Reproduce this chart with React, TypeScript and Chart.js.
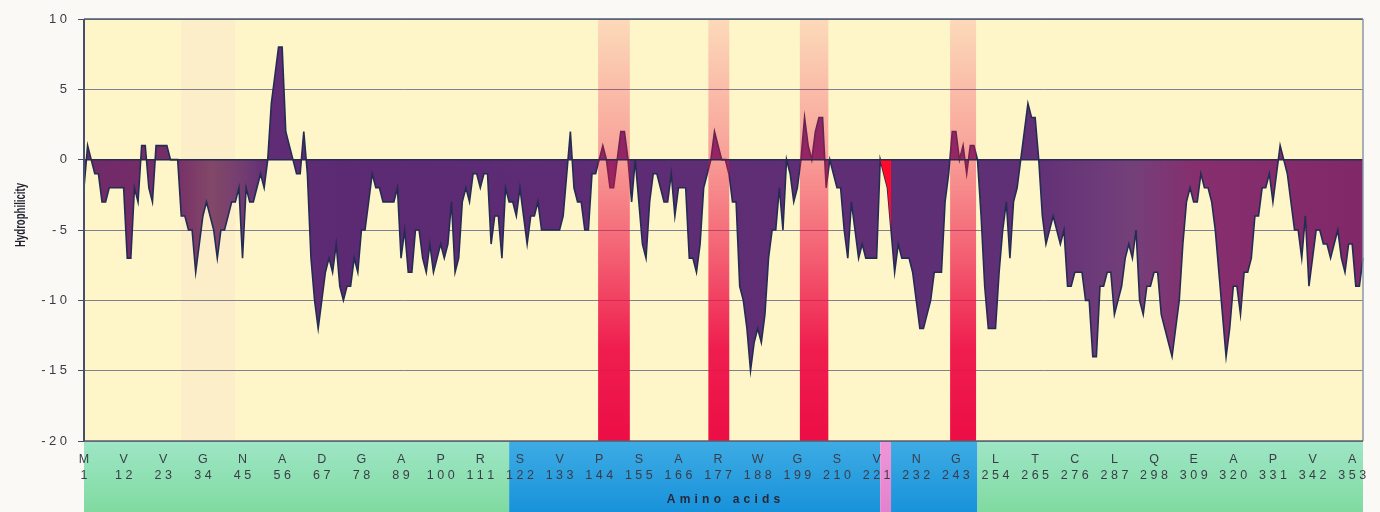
import React, { useEffect, useRef } from 'react';
import { Chart, registerables } from 'chart.js';

Chart.register(...registerables);

// Hydrophilicity value per residue (1..356)
const hydrophilicity: number[] = [
  -2, 1, 0, -1, -1, -3, -3, -2, -2, -2,
  -2, -2, -7, -7, -2, -3, 1, 1, -2, -3,
  1, 1, 1, 1, 0, 0, 0, -4, -4, -5,
  -5, -8, -6, -4, -3, -4, -5, -7, -5, -5,
  -4, -3, -3, -2, -7, -2, -3, -3, -2, -1,
  -2, 0, 4, 6, 8, 8, 2, 1, 0, -1,
  -1, 2, -1, -7, -10, -12, -10, -8, -7, -8,
  -6, -9, -10, -9, -9, -7, -8, -5, -5, -3,
  -1, -2, -2, -3, -3, -3, -3, -2, -7, -5,
  -8, -8, -5, -5, -7, -8, -6, -8, -7, -6,
  -7, -6, -3, -8, -7, -3, -2, -3, -1, -1,
  -2, -1, -1, -6, -4, -4, -7, -2, -3, -3,
  -4, -2, -4, -6, -4, -4, -3, -5, -5, -5,
  -5, -5, -5, -4, -1, 2, -2, -3, -3, -5,
  -5, -1, -1, 0, 1, 0, -2, -2, 0, 2,
  2, 0, -3, 0, -3, -6, -7, -3, -1, -1,
  -2, -3, -3, -1, -4, -2, -2, -2, -7, -7,
  -8, -6, -2, -1, 0, 2, 1, 0, 0, -1,
  -3, -3, -9, -10, -12, -15, -13, -12, -13, -11,
  -7, -5, -5, -2, -5, 0, -1, -3, -2, 0,
  3, 1, 0, 2, 3, 3, -2, 0, -1, -2,
  -2, -5, -7, -3, -5, -7, -6, -7, -7, -7,
  -7, 0, -1, -2, -5, -8, -6, -7, -7, -7,
  -8, -10, -12, -12, -11, -10, -8, -8, -8, -3,
  -1, 2, 2, 0, 1, -1, 1, 1, 0, -4,
  -9, -12, -12, -12, -8, -5, -3, -7, -3, -2,
  0, 2, 4, 3, 3, 0, -4, -6, -5, -4,
  -5, -6, -5, -9, -9, -8, -8, -8, -10, -10,
  -14, -14, -9, -9, -8, -8, -11, -10, -9, -7,
  -6, -7, -5, -10, -11, -9, -9, -8, -8, -11,
  -12, -13, -14, -12, -10, -6, -3, -2, -3, -3,
  -1, -2, -2, -3, -5, -8, -11, -14, -12, -9,
  -9, -11, -8, -8, -7, -4, -4, -2, -2, -1,
  -3, -1, 1, 0, -1, -3, -5, -5, -7, -4,
  -9, -7, -5, -5, -6, -6, -7, -6, -5, -7,
  -8, -6, -6, -9, -9, -7,
];

// x tick labels (residue number + amino acid letter)
const tickNumbers: number[] = [1, 12, 23, 34, 45, 56, 67, 78, 89, 100, 111, 122, 133, 144, 155, 166, 177, 188, 199, 210, 221, 232, 243, 254, 265, 276, 287, 298, 309, 320, 331, 342, 353];
const tickLetters: string[] = ['M', 'V', 'V', 'G', 'N', 'A', 'D', 'G', 'A', 'P', 'R', 'S', 'V', 'P', 'S', 'A', 'R', 'W', 'G', 'S', 'V', 'N', 'G', 'L', 'T', 'C', 'L', 'Q', 'E', 'A', 'P', 'V', 'A'];

// highlighted residue ranges (red bands)
const bandStart: number[] = [143.7, 174.3, 199.7, 241.4];
const bandEnd: number[] = [152.5, 180.1, 207.6, 248.6];

// narrow site (bright red)
const siteStart = 222;
const siteEnd = 225;

// domain regions along the sequence
const regionStart: number[] = [1, 119, 222, 225, 249];
const regionEnd: number[] = [119, 222, 225, 249, 356];
const regionKind: string[] = ['outer', 'domain', 'site', 'domain', 'outer'];

const residueLabels: string[] = hydrophilicity.map((_, i) => String(i + 1));

const SANS = "'Liberation Sans', Arial, sans-serif";

function drawSpaced(ctx: CanvasRenderingContext2D, text: string, x: number, y: number, spacing: number, align: 'center' | 'right') {
  const chars = Array.from(text);
  const widths = chars.map((c) => ctx.measureText(c).width);
  const total = widths.reduce((s, w) => s + w, 0) + spacing * (chars.length - 1);
  let cx = align === 'center' ? x - total / 2 : x - total;
  ctx.textAlign = 'left';
  ctx.textBaseline = 'middle';
  chars.forEach((c, i) => {
    ctx.fillText(c, cx, y);
    cx += widths[i] + spacing;
  });
}

const decorPlugin = {
  id: 'decor',
  beforeDraw(chart: any) {
    const { ctx, chartArea: a } = chart;
    const xs = chart.scales.x;
    const px = (r: number) => xs.getPixelForValue(r - 1);
    ctx.save();
    ctx.fillStyle = '#faf9f6';
    ctx.fillRect(0, 0, chart.width, chart.height);
    ctx.fillStyle = '#fef5c9';
    ctx.fillRect(a.left, a.top, a.right - a.left, a.bottom - a.top);
    // faint tint
    ctx.fillStyle = 'rgba(250,215,205,0.22)';
    ctx.fillRect(px(28), a.top, px(43) - px(28), a.bottom - a.top);

    // bottom strips
    regionStart.forEach((s, i) => {
      const x0 = px(s);
      const x1 = px(regionEnd[i]);
      const g = ctx.createLinearGradient(0, a.bottom, 0, chart.height);
      const kind = regionKind[i];
      if (kind === 'outer') {
        g.addColorStop(0, 'rgb(158,230,198)');
        g.addColorStop(1, 'rgb(128,218,160)');
      } else if (kind === 'domain') {
        g.addColorStop(0, 'rgb(62,172,228)');
        g.addColorStop(1, 'rgb(24,146,218)');
      } else {
        g.addColorStop(0, 'rgb(238,150,215)');
        g.addColorStop(1, 'rgb(228,130,205)');
      }
      ctx.fillStyle = g;
      ctx.fillRect(x0, a.bottom, x1 - x0, chart.height - a.bottom);
    });
    ctx.restore();
  },
  afterDatasetsDraw(chart: any) {
    const { ctx, chartArea: a } = chart;
    const xs = chart.scales.x;
    const ys = chart.scales.y;
    const px = (r: number) => xs.getPixelForValue(r - 1);
    const y0 = ys.getPixelForValue(0);
    ctx.save();

    // bright red site fill
    const pts = chart.getDatasetMeta(0).data;
    ctx.beginPath();
    ctx.moveTo(pts[siteStart - 1].x, y0);
    for (let r = siteStart; r <= siteEnd; r++) ctx.lineTo(pts[r - 1].x, pts[r - 1].y);
    ctx.lineTo(pts[siteEnd - 1].x, y0);
    ctx.closePath();
    ctx.fillStyle = 'rgb(255,10,40)';
    ctx.fill();

    // red highlight bands
    bandStart.forEach((s, i) => {
      const x0 = px(s);
      const x1 = px(bandEnd[i]);
      const g = ctx.createLinearGradient(0, a.top, 0, a.bottom);
      g.addColorStop(0, 'rgba(238,22,72,0.12)');
      g.addColorStop(0.3, 'rgba(238,22,72,0.36)');
      g.addColorStop(0.55, 'rgba(238,22,72,0.66)');
      g.addColorStop(0.78, 'rgba(238,18,72,0.95)');
      g.addColorStop(1, 'rgba(236,14,70,1)');
      ctx.fillStyle = g;
      ctx.fillRect(x0, a.top, x1 - x0, a.bottom - a.top);
    });

    // zero line
    ctx.strokeStyle = 'rgb(38,44,80)';
    ctx.lineWidth = 1.5;
    ctx.beginPath();
    ctx.moveTo(a.left, y0);
    ctx.lineTo(a.right, y0);
    ctx.stroke();

    // frame
    ctx.lineWidth = 1.5;
    ctx.strokeStyle = 'rgb(80,92,112)';
    ctx.beginPath();
    ctx.moveTo(a.left, a.top);
    ctx.lineTo(a.right, a.top);
    ctx.stroke();
    ctx.strokeStyle = 'rgb(140,150,170)';
    ctx.beginPath();
    ctx.moveTo(a.right, a.top);
    ctx.lineTo(a.right, a.bottom);
    ctx.stroke();
    ctx.strokeStyle = 'rgb(90,95,115)';
    ctx.beginPath();
    ctx.moveTo(a.left, a.bottom);
    ctx.lineTo(a.right, a.bottom);
    ctx.stroke();
    ctx.lineWidth = 2;
    ctx.strokeStyle = 'rgb(70,80,110)';
    ctx.beginPath();
    ctx.moveTo(a.left, a.top);
    ctx.lineTo(a.left, a.bottom);
    ctx.stroke();
    ctx.restore();
  },
  afterDraw(chart: any) {
    const { ctx, chartArea: a } = chart;
    const xs = chart.scales.x;
    const ys = chart.scales.y;
    ctx.save();
    // y tick labels
    ctx.fillStyle = 'rgb(58,58,68)';
    ctx.font = `13px ${SANS}`;
    ys.ticks.forEach((t: any) => {
      drawSpaced(ctx, String(t.value), 67, ys.getPixelForValue(t.value), 3.5, 'right');
    });
    // x tick labels
    ctx.font = `12.5px ${SANS}`;
    tickNumbers.forEach((n, i) => {
      const x = xs.getPixelForValue(n - 1);
      ctx.fillStyle = 'rgb(60,60,72)';
      drawSpaced(ctx, tickLetters[i], x, 460, 3.5, 'center');
      drawSpaced(ctx, String(n), x, 476, 3.5, 'center');
    });
    // x title
    ctx.font = `bold 12px ${SANS}`;
    ctx.fillStyle = 'rgb(40,40,55)';
    drawSpaced(ctx, 'Amino acids', (a.left + a.right) / 2, 500, 4.2, 'center');
    // y title
    ctx.translate(21, 215);
    ctx.rotate(-Math.PI / 2);
    ctx.font = `bold 15px 'Liberation Sans Narrow', ${SANS}`;
    const w = ctx.measureText('Hydrophilicity').width;
    ctx.scale(64 / w, 1);
    ctx.textAlign = 'center';
    ctx.textBaseline = 'middle';
    ctx.fillStyle = 'rgb(35,35,48)';
    ctx.fillText('Hydrophilicity', 0, 0);
    ctx.restore();
  },
};

export default function App() {
  const ref = useRef<HTMLCanvasElement | null>(null);

  useEffect(() => {
    if (!ref.current) return;
    const chart = new Chart(ref.current, {
      type: 'line',
      data: {
        labels: residueLabels,
        datasets: [
          {
            data: hydrophilicity,
            fill: 'origin',
            borderColor: 'rgb(36,44,84)',
            borderWidth: 1.6,
            pointRadius: 0,
            tension: 0,
            backgroundColor: (c: any) => {
              const ch = c.chart;
              const a = ch.chartArea;
              if (!a) return 'rgb(95,45,115)';
              const g = ch.ctx.createLinearGradient(a.left, 0, a.right, 0);
              g.addColorStop(0, 'rgb(112,42,104)');
              g.addColorStop(0.07, 'rgb(118,46,104)');
              g.addColorStop(0.1, 'rgb(130,72,104)');
              g.addColorStop(0.125, 'rgb(114,60,114)');
              g.addColorStop(0.145, 'rgb(96,44,118)');
              g.addColorStop(0.2, 'rgb(92,42,115)');
              g.addColorStop(0.74, 'rgb(96,48,118)');
              g.addColorStop(0.82, 'rgb(116,64,122)');
              g.addColorStop(0.87, 'rgb(134,46,110)');
              g.addColorStop(1, 'rgb(128,40,104)');
              return g;
            },
          } as any,
        ],
      },
      options: {
        animation: false,
        responsive: false,
        layout: { padding: { top: 19, right: 17, left: 0, bottom: 0 } },
        plugins: { legend: { display: false }, tooltip: { enabled: false } },
        scales: {
          x: {
            type: 'category',
            offset: false,
            grid: { display: false, drawTicks: false },
            border: { display: false },
            ticks: { display: false },
            afterFit: (s: any) => {
              s.height = 71;
            },
          },
          y: {
            min: -20,
            max: 10,
            ticks: { stepSize: 5, display: false },
            grid: {
              color: 'rgb(128,128,145)',
              lineWidth: 1,
              drawTicks: true,
              tickLength: 6,
              tickColor: 'rgb(70,75,95)',
            },
            border: { display: false },
            afterFit: (s: any) => {
              s.width = 84;
            },
          },
        },
      } as any,
      plugins: [decorPlugin],
    });
    return () => chart.destroy();
  }, []);

  return (
    <div style={{ position: 'absolute', left: 0, top: 0, width: 1380, height: 512 }}>
      <canvas ref={ref} width={1380} height={512} style={{ display: 'block', width: 1380, height: 512 }} />
    </div>
  );
}
